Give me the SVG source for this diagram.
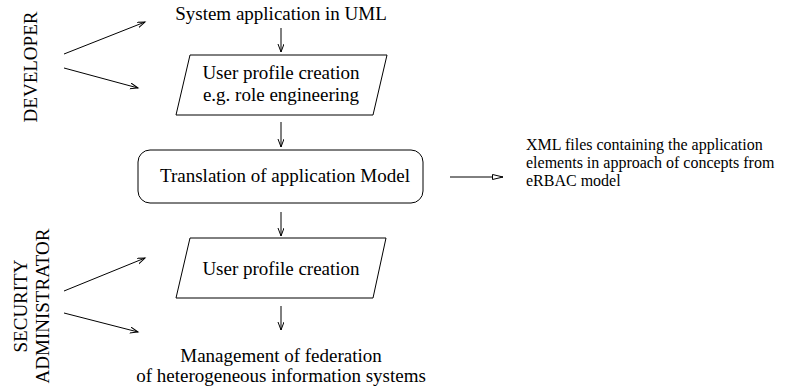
<svg xmlns="http://www.w3.org/2000/svg" width="807" height="389" viewBox="0 0 807 389">
<style>
text { font-family: "Liberation Serif", "Times New Roman", serif; fill: #000; }
.t { font-size: 19px; text-anchor: middle; }
.s { font-size: 16px; }
.shape { fill: #fff; stroke: #000; stroke-width: 1; }
.c { stroke: #000; stroke-width: 1; fill: none; }
</style>
<defs>
<marker id="v" markerUnits="userSpaceOnUse" markerWidth="10" markerHeight="8" refX="8" refY="3" orient="auto">
<path d="M0,0 L8,3 L0,6" fill="none" stroke="#000" stroke-width="1"/>
</marker>
<marker id="tri" markerUnits="userSpaceOnUse" markerWidth="13" markerHeight="8" refX="11" refY="3" orient="auto">
<path d="M0.5,0.5 L11,3 L0.5,5.5 Z" fill="#fff" stroke="#000" stroke-width="1"/>
</marker>
</defs>

<g id="developer">
<text class="t" x="37" y="67" transform="rotate(-90 37 67)">DEVELOPER</text>
</g>
<g id="security-administrator">
<text class="t" x="27" y="306" transform="rotate(-90 27 306)">SECURITY</text>
<text class="t" x="49" y="306" transform="rotate(-90 49 306)">ADMINISTRATOR</text>
</g>

<g id="system-uml">
<text class="t" x="281" y="20">System application in UML</text>
</g>
<g id="profile-creation-dev">
<polygon class="shape" points="190,55 387,55 373,115 176,115"/>
<text class="t" x="281" y="79">User profile creation</text>
<text class="t" x="281" y="101">e.g. role engineering</text>
</g>
<g id="translation">
<rect class="shape" x="138" y="150" width="285" height="53" rx="12" ry="12"/>
<text class="t" x="285" y="182">Translation of application Model</text>
</g>
<g id="xml-files">
<text class="s" x="526" y="150">XML files containing the application</text>
<text class="s" x="526" y="168">elements in approach of concepts from</text>
<text class="s" x="526" y="186">eRBAC model</text>
</g>
<g id="profile-creation-sec">
<polygon class="shape" points="190,238 386,238 373,298 176,298"/>
<text class="t" x="281" y="275">User profile creation</text>
</g>
<g id="federation">
<text class="t" x="281" y="362">Management of federation</text>
<text class="t" x="281" y="382">of heterogeneous information systems</text>
</g>

<g id="connectors">
<line class="c" x1="281" y1="28" x2="281" y2="52" marker-end="url(#v)"/>
<line class="c" x1="281" y1="122" x2="281" y2="147" marker-end="url(#v)"/>
<line class="c" x1="281" y1="212" x2="281" y2="236" marker-end="url(#v)"/>
<line class="c" x1="281" y1="306" x2="281" y2="330" marker-end="url(#v)"/>
<line class="c" x1="450" y1="177" x2="503" y2="177" marker-end="url(#tri)"/>
<line class="c" x1="64" y1="54" x2="145" y2="22" marker-end="url(#v)"/>
<line class="c" x1="64" y1="68" x2="138" y2="88" marker-end="url(#v)"/>
<line class="c" x1="64" y1="291" x2="145" y2="258" marker-end="url(#v)"/>
<line class="c" x1="64" y1="313" x2="138" y2="332" marker-end="url(#v)"/>
</g>
</svg>
